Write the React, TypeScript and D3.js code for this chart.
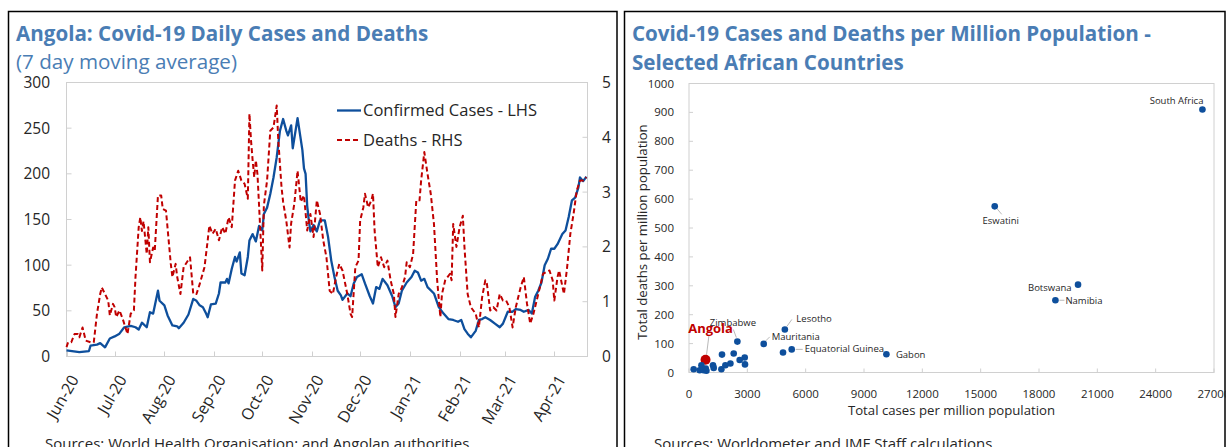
import React from 'react';
import * as d3 from 'd3';

// ---------- Left chart data (Angola, 7-day moving averages) ----------
const seriesStart = '2020-06-01';
const seriesEnd = '2021-04-22';
const monthTicks = ['2020-06-01', '2020-07-01', '2020-08-01', '2020-09-01', '2020-10-01', '2020-11-01', '2020-12-01', '2021-01-01', '2021-02-01', '2021-03-01', '2021-04-01'];
const leftTicks = [0, 50, 100, 150, 200, 250, 300];
const rightTicks = [0, 1, 2, 3, 4, 5];

// days since 1 Jun 2020
const casesDays = [0, 8, 14, 15, 19, 21, 24, 27, 30, 33, 36, 40, 43, 45, 47, 50, 52, 54, 57, 58, 61, 63, 66, 69, 70, 73, 76, 79, 81, 83, 85, 87, 88, 90, 93, 95, 96, 99, 100, 101, 103, 105, 106, 108, 109, 111, 113, 114, 116, 118, 120, 122, 123, 125, 127, 129, 131, 133, 135, 137, 138, 140, 141, 143, 144, 147, 148, 149, 150, 151, 152, 154, 156, 158, 161, 163, 165, 167, 169, 171, 172, 175, 177, 179, 181, 184, 186, 189, 191, 193, 195, 197, 200, 203, 205, 207, 209, 212, 215, 217, 219, 221, 223, 225, 229, 232, 235, 238, 241, 244, 246, 248, 250, 252, 255, 257, 259, 261, 264, 267, 270, 272, 275, 278, 280, 283, 285, 288, 290, 292, 294, 296, 298, 300, 302, 304, 306, 309, 311, 313, 315, 317, 319, 320, 322, 324];
const casesValues = [6.6, 4.7, 6, 12, 13, 14.6, 10, 19.7, 22, 25, 32, 33.6, 32, 29.5, 37, 32, 48.5, 47, 72, 61, 56, 45, 34, 33, 31, 37, 46, 63, 61, 56, 54, 47, 43, 57, 58, 69, 81, 81, 85, 80, 96, 109, 104, 114, 91, 89, 109, 127, 134, 126, 143, 138, 156, 163, 178, 196, 218, 247, 260, 247, 242, 253, 228, 250, 261, 226, 206, 200, 165, 149, 137, 144, 137, 149, 149, 131, 105, 87, 72, 67, 62, 69, 66, 80, 87, 90, 80, 66, 58, 76, 74, 85, 78, 66, 54, 58, 72, 81, 87, 94, 92, 83, 85, 76, 69, 54, 47, 41, 40, 38, 40, 30, 25, 21, 28, 40, 41, 43, 40, 36, 32, 36, 49, 49, 52, 51, 49, 51, 47, 65, 72, 81, 100, 107, 118, 118, 123, 134, 138, 153, 171, 174, 185, 196, 192, 197];

const deathsDays = [0, 1, 3, 5, 7, 8, 10, 12, 15, 17, 19, 21, 22, 24, 26, 27, 29, 30, 31, 33, 35, 38, 40, 42, 43, 45, 46, 47, 48, 50, 51, 52, 54, 55, 57, 59, 60, 62, 65, 66, 68, 69, 71, 73, 75, 77, 79, 81, 83, 86, 88, 89, 91, 93, 95, 97, 99, 101, 103, 105, 107, 109, 111, 113, 114, 115, 116, 117, 118, 119, 120, 122, 123, 125, 127, 129, 131, 132, 134, 135, 137, 139, 140, 142, 144, 146, 148, 150, 152, 154, 156, 158, 160, 162, 164, 166, 168, 170, 172, 175, 177, 178, 180, 182, 183, 185, 186, 188, 190, 191, 192, 194, 196, 198, 200, 202, 204, 205, 207, 209, 211, 212, 214, 216, 218, 220, 221, 223, 225, 227, 229, 231, 233, 234, 236, 239, 240, 241, 243, 245, 247, 248, 250, 252, 255, 257, 259, 261, 262, 264, 266, 268, 270, 272, 274, 276, 278, 280, 283, 285, 287, 289, 291, 293, 295, 297, 299, 301, 303, 304, 306, 307, 310, 312, 314, 316, 318, 320, 322, 324];
const deathsValues = [0.17, 0.26, 0.26, 0.41, 0.41, 0.35, 0.53, 0.29, 0.26, 0.26, 0.78, 1.14, 1.26, 1.14, 1.02, 0.75, 0.96, 0.9, 0.72, 0.84, 0.69, 0.41, 0.78, 0.84, 1.45, 2.36, 2.54, 2.29, 2.47, 1.87, 2.36, 1.72, 1.99, 1.93, 2.94, 2.94, 2.69, 2.66, 1.69, 1.45, 1.69, 1.45, 1.14, 1.63, 1.72, 1.81, 1.14, 1.14, 1.32, 1.63, 2.12, 2.39, 2.24, 2.33, 2.12, 2.36, 2.24, 2.54, 2.36, 3.21, 3.39, 3.21, 3.15, 2.88, 4.43, 3.94, 3.58, 3.27, 3.58, 3.33, 2.76, 1.57, 2.76, 3.21, 4.12, 4.18, 4.58, 3.94, 3.09, 2.82, 2.47, 1.99, 2.43, 2.79, 3.39, 2.82, 2.94, 2.3, 2.6, 2.18, 2.85, 2.6, 2.12, 1.81, 1.2, 1.14, 1.45, 1.69, 1.57, 1.14, 0.78, 0.72, 1.63, 1.75, 2.48, 2.72, 2.97, 2.72, 2.85, 2.97, 2.3, 1.63, 1.81, 1.63, 1.75, 1.39, 1.14, 0.72, 1.14, 1.26, 1.45, 1.72, 1.63, 1.87, 2.85, 2.85, 3.21, 3.73, 3.33, 2.97, 2.42, 1.39, 0.72, 1.14, 1.39, 1.51, 1.39, 2.42, 2.0, 2.36, 2.57, 2.0, 1.14, 0.9, 0.78, 0.53, 1.08, 1.39, 1.33, 0.84, 0.9, 0.84, 1.14, 1.02, 1.02, 0.9, 0.53, 0.9, 1.26, 1.45, 0.96, 0.6, 0.78, 1.02, 1.26, 1.51, 1.54, 1.57, 1.39, 1.02, 1.45, 1.57, 1.14, 1.63, 2.24, 2.6, 3.03, 3.21, 3.21, 3.27];

// ---------- Right chart data (per million population) ----------
const countries = ['South Africa', 'Eswatini', 'Botswana', 'Namibia', 'Gabon', 'Lesotho', 'Mauritania', 'Equatorial Guinea', 'Zimbabwe', 'Angola', '', '', '', '', '', '', '', '', '', '', '', '', '', '', '', ''];
const casesPerMillion = [26405, 15723, 20007, 18844, 10152, 4930, 3842, 5282, 2488, 850, 4835, 240, 550, 640, 750, 860, 895, 1234, 1270, 1666, 1697, 1872, 2129, 2299, 2607, 2865, 2880];
const deathsPerMillion = [910, 575, 304, 250, 63, 149, 99, 80, 107, 44, 69, 11, 8, 25, 8, 14, 6, 25, 16, 11, 62, 25, 31, 66, 43, 52, 28];
const scatterXTicks = [0, 3000, 6000, 9000, 12000, 15000, 18000, 21000, 24000, 27000];
const scatterYTicks = [0, 100, 200, 300, 400, 500, 600, 700, 800, 900, 1000];

const FONT = "'Open Sans', 'Noto Sans', sans-serif";
const TITLE = '#4a7db4';
const BLUE = '#0e4f9c';
const RED = '#c00000';
const GRID = '#d0d0d0';
const TXT = '#262626';

export default function App() {
  const W = 1226, H = 447;
  const parse = d3.timeParse('%Y-%m-%d');
  const t0 = parse(seriesStart)!;
  const t1 = parse(seriesEnd)!;

  // left plot
  const L = { l: 66.5, r: 587.5, t: 82.5, b: 356.5 };
  const x = d3.scaleTime().domain([t0, t1]).range([L.l, L.r + 0.5]);
  const yL = d3.scaleLinear().domain([0, 300]).range([L.b, L.t]);
  const yR = d3.scaleLinear().domain([0, 5]).range([L.b, L.t]);
  const cases = casesDays.map((d, i) => ({ t: d3.timeDay.offset(t0, d), v: casesValues[i] }));
  const deaths = deathsDays.map((d, i) => ({ t: d3.timeDay.offset(t0, d), v: deathsValues[i] }));
  const caseLine = d3.line<{ t: Date; v: number }>().x(d => x(d.t)).y(d => yL(d.v));
  const deathLine = d3.line<{ t: Date; v: number }>().x(d => x(d.t)).y(d => yR(d.v));
  const fmtMonth = d3.timeFormat('%b-%y');

  // right plot
  const R = { l: 689, r: 1214, t: 83.5, b: 372.5 };
  const sx = d3.scaleLinear().domain([0, 27000]).range([R.l, R.r]);
  const sy = d3.scaleLinear().domain([0, 1000]).range([R.b, R.t]);

  type Lab = { dx: number; dy: number; anchor: 'start' | 'end' | 'middle'; lead?: [number, number, number, number] };
  const labelLayout: Record<string, Lab> = {
    'South Africa': { dx: 1, dy: -6, anchor: 'end' },
    'Eswatini': { dx: 6, dy: 17.5, anchor: 'middle', lead: [2, 2, 7, 8] },
    'Botswana': { dx: -6.5, dy: 6, anchor: 'end' },
    'Namibia': { dx: 10, dy: 3.5, anchor: 'start', lead: [4, 0, 9, 0] },
    'Gabon': { dx: 9.5, dy: 4, anchor: 'start' },
    'Lesotho': { dx: 11.5, dy: -7, anchor: 'start', lead: [2, -3, 7, -10] },
    'Mauritania': { dx: 8, dy: -4, anchor: 'start', lead: [2, -3, 6, -7] },
    'Equatorial Guinea': { dx: 13, dy: 3, anchor: 'start', lead: [4, 0, 11, 0] },
    'Zimbabwe': { dx: -4.5, dy: -15.5, anchor: 'middle', lead: [-1, -4, -4, -12] },
    'Angola': { dx: 5, dy: -27, anchor: 'middle', lead: [1, -5, 3.5, -25] },
  };

  return (
    <svg width={W} height={H} style={{ position: 'absolute', left: 0, top: 0 }} fontFamily={FONT}>
      <rect x={0} y={0} width={W} height={H} fill="#fff" />
      {/* panel borders */}
      <rect x={8.5} y={11.5} width={608.5} height={460} fill="none" stroke="#000" strokeWidth={1.5} />
      <rect x={624.5} y={11.5} width={600.5} height={460} fill="none" stroke="#000" strokeWidth={1.5} />

      {/* ---------------- LEFT ---------------- */}
      <text x={16} y={41} fill={TITLE} fontWeight={700} fontSize={20.6}>Angola: Covid-19 Daily Cases and Deaths</text>
      <text x={16} y={69} fill={TITLE} fontSize={20.6}>(7 day moving average)</text>
      <rect x={L.l} y={L.t} width={L.r - L.l} height={L.b - L.t} fill="none" stroke={GRID} strokeWidth={1} />
      {leftTicks.map(v => (
        <g key={'lt' + v}>
          <line x1={L.l} x2={L.l + 5} y1={yL(v)} y2={yL(v)} stroke={GRID} />
          <text x={50} y={yL(v)} dy="0.35em" textAnchor="end" fontSize={15.5} fill={TXT}>{v}</text>
        </g>
      ))}
      {rightTicks.map(v => (
        <g key={'rt' + v}>
          <line x1={L.r - 5} x2={L.r} y1={yR(v)} y2={yR(v)} stroke={GRID} />
          <text x={602} y={yR(v)} dy="0.35em" textAnchor="start" fontSize={15.5} fill={TXT}>{v}</text>
        </g>
      ))}
      {monthTicks.map(s => {
        const d = parse(s)!;
        const px = Math.round(x(d)) + 0.5;
        return (
          <g key={s}>
            <line x1={px} x2={px} y1={L.b} y2={L.b - 5} stroke={GRID} />
            <text transform={`translate(${px + 7},${L.b + 20}) rotate(-60)`} textAnchor="end" dy="0.35em" fontSize={16} fill={TXT}>{fmtMonth(d)}</text>
          </g>
        );
      })}
      <path d={caseLine(cases)!} fill="none" stroke={BLUE} strokeWidth={2.3} strokeLinejoin="round" />
      <path d={deathLine(deaths)!} fill="none" stroke={RED} strokeWidth={2} strokeDasharray="5 3" strokeLinejoin="round" />
      {/* legend */}
      <line x1={337} x2={361} y1={110.5} y2={110.5} stroke={BLUE} strokeWidth={2.3} />
      <text x={363} y={110.5} dy="0.35em" fontSize={16.5} fill={TXT}>Confirmed Cases - LHS</text>
      <line x1={337} x2={361} y1={140} y2={140} stroke={RED} strokeWidth={2} strokeDasharray="5 3" />
      <text x={363} y={140} dy="0.35em" fontSize={16.5} fill={TXT}>Deaths - RHS</text>
      <text x={45} y={449} fontSize={15} fill={TXT}>Sources: World Health Organisation; and Angolan authorities</text>

      {/* ---------------- RIGHT ---------------- */}
      <text x={632} y={41} fill={TITLE} fontWeight={700} fontSize={20.6}>Covid-19 Cases and Deaths per Million Population -</text>
      <text x={632} y={70} fill={TITLE} fontWeight={700} fontSize={20.6}>Selected African Countries</text>
      <rect x={R.l} y={R.t} width={R.r - R.l} height={R.b - R.t} fill="none" stroke={GRID} strokeWidth={1} />
      {scatterYTicks.map(v => (
        <g key={'sy' + v}>
          <line x1={R.l} x2={R.l + 4} y1={sy(v)} y2={sy(v)} stroke={GRID} />
          <text x={674} y={sy(v)} dy="0.35em" textAnchor="end" fontSize={11.5} fill={TXT}>{v}</text>
        </g>
      ))}
      {scatterXTicks.map(v => (
        <g key={'sx' + v}>
          <line x1={sx(v)} x2={sx(v)} y1={R.b} y2={R.b - 4} stroke={GRID} />
          <text x={sx(v)} y={397.5} textAnchor="middle" fontSize={11.5} fill={TXT}>{v}</text>
        </g>
      ))}
      <text transform={`translate(647,${(R.t + R.b) / 2 + 4}) rotate(-90)`} textAnchor="middle" fontSize={13.2} fill={TXT}>Total deaths per million population</text>
      <text x={(R.l + R.r) / 2} y={414.5} textAnchor="middle" fontSize={13.2} fill={TXT}>Total cases per million population</text>
      {casesPerMillion.map((c, i) => {
        const name = countries[i] || '';
        const isAngola = name === 'Angola';
        const px = sx(c), py = sy(deathsPerMillion[i]);
        const lab = labelLayout[name];
        return (
          <g key={'p' + i}>
            {lab && lab.lead && (
              <line x1={px + lab.lead[0]} y1={py + lab.lead[1]} x2={px + lab.lead[2]} y2={py + lab.lead[3]} stroke="#a6a6a6" strokeWidth={0.8} />
            )}
            <circle cx={px} cy={py} r={isAngola ? 5 : 3.3} fill={isAngola ? RED : BLUE} />
            {lab && (
              <text x={px + lab.dx} y={py + lab.dy} textAnchor={lab.anchor}
                fontSize={isAngola ? 13 : 9.5} fontWeight={isAngola ? 700 : 400} fill={isAngola ? RED : TXT}>{name}</text>
            )}
          </g>
        );
      })}
      <text x={654} y={449} fontSize={15} fill={TXT}>Sources: Worldometer and IMF Staff calculations.</text>
    </svg>
  );
}
